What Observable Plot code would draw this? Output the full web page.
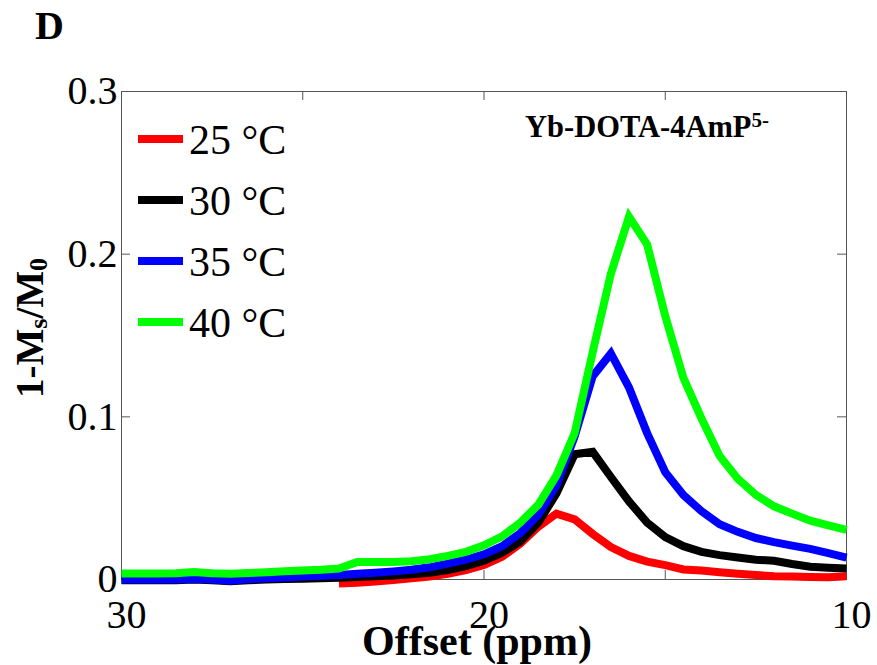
<!DOCTYPE html>
<html>
<head>
<meta charset="utf-8">
<script src="https://cdn.jsdelivr.net/npm/d3@7"></script>
<script src="https://cdn.jsdelivr.net/npm/@observablehq/plot@0.6"></script>
<style>
  body { margin: 0; background: #fff; }
  svg { display: block; }
</style>
</head>
<body>
<div id="chart"></div>
<script>
// ---- data ----
const offsets = [30, 29.5, 29, 28.5, 28, 27.5, 27, 26.5, 26, 25.5, 25, 24.5, 24, 23.5, 23, 22.5, 22, 21.5, 21, 20.5, 20,
                 19.5, 19, 18.5, 18, 17.5, 17, 16.5, 16, 15.5, 15, 14.5, 14, 13.5, 13, 12.5, 12, 11.5, 11, 10.5, 10];
const seriesNames = ["25 °C", "30 °C", "35 °C", "40 °C"];
const seriesColors = ["#ff0000", "#000000", "#0000ff", "#00ff00"];

// 25 °C starts at 24 ppm
const offsets25 = offsets.slice(12);
const values25 = [-0.0025, -0.0020, -0.0012, -0.0003, 0.0007, 0.0018, 0.0035, 0.0058, 0.0090,
                  0.0140, 0.0220, 0.0325, 0.0405, 0.0370, 0.0280, 0.0200, 0.0145, 0.0110, 0.0088, 0.0062,
                  0.0055, 0.0045, 0.0035, 0.0027, 0.0020, 0.0018, 0.0015, 0.0014, 0.0020];
const values30 = [-0.0005, -0.0005, -0.0005, -0.0005, 0.0000, -0.0005, -0.0010, -0.0005, 0.0000, 0.0003, 0.0005,
                  0.0008, 0.0010, 0.0015, 0.0020, 0.0025, 0.0032, 0.0042, 0.0058, 0.0082, 0.0115,
                  0.0165, 0.0235, 0.0350, 0.0530, 0.0770, 0.0785, 0.0630, 0.0480, 0.0350, 0.0260,
                  0.0205, 0.0170, 0.0150, 0.0135, 0.0122, 0.0115, 0.0095, 0.0078, 0.0072, 0.0068];
const values35 = [0.0000, 0.0000, 0.0000, 0.0000, 0.0003, 0.0000, -0.0008, 0.0003, 0.0008, 0.0013, 0.0018,
                  0.0023, 0.0028, 0.0035, 0.0042, 0.0050, 0.0060, 0.0075, 0.0098, 0.0122, 0.0155,
                  0.0205, 0.0285, 0.0400, 0.0580, 0.0880, 0.1250, 0.1390, 0.1180, 0.0900, 0.0660,
                  0.0520, 0.0420, 0.0340, 0.0293, 0.0255, 0.0230, 0.0208, 0.0188, 0.0162, 0.0135];
const values40 = [0.0037, 0.0037, 0.0037, 0.0038, 0.0046, 0.0038, 0.0036, 0.0040, 0.0045, 0.0050, 0.0055,
                  0.0060, 0.0068, 0.0108, 0.0108, 0.0108, 0.0112, 0.0125, 0.0145, 0.0170, 0.0210,
                  0.0265, 0.0350, 0.0460, 0.0640, 0.0900, 0.1400, 0.1880, 0.2230, 0.2060, 0.1620,
                  0.1240, 0.0990, 0.0760, 0.0620, 0.0520, 0.0450, 0.0405, 0.0362, 0.0333, 0.0305];

const xTicks = [30, 25, 20, 15, 10];
const xTickLabels = [30, 20, 10];
const yTicks = [0, 0.1, 0.2, 0.3];

// ---- table for the library ----
const rows = [];
offsets25.forEach((o, i) => rows.push({offset: o, value: values25[i], series: seriesNames[0]}));
offsets.forEach((o, i) => rows.push({offset: o, value: values30[i], series: seriesNames[1]}));
offsets.forEach((o, i) => rows.push({offset: o, value: values35[i], series: seriesNames[2]}));
offsets.forEach((o, i) => rows.push({offset: o, value: values40[i], series: seriesNames[3]}));

// ---- layout ----
const W = 877, H = 665;
const mL = 121, mR = 31, mT = 91, mB = 86;
const frameW = W - mL - mR, frameH = H - mT - mB;
const tickLen = 9;
const axisColor = "#555";
const serif = "'Liberation Serif','Times New Roman',Times,serif";

const chart = Plot.plot({
  width: W,
  height: H,
  marginLeft: mL, marginRight: mR, marginTop: mT, marginBottom: mB,
  style: {fontFamily: serif, background: "white", overflow: "visible", color: "black"},
  x: {domain: [30, 10], label: null},
  y: {domain: [0, 0.3], label: null},
  color: {domain: seriesNames, range: seriesColors},
  marks: [
    Plot.ruleX(xTicks, {x: d => d, insetTop: frameH - tickLen, stroke: axisColor}),
    Plot.ruleX(xTicks, {x: d => d, insetBottom: frameH - tickLen, stroke: axisColor}),
    Plot.ruleY(yTicks, {y: d => d, insetRight: frameW - tickLen, stroke: axisColor}),
    Plot.ruleY(yTicks, {y: d => d, insetLeft: frameW - tickLen, stroke: axisColor}),
    Plot.frame({stroke: axisColor, strokeWidth: 1}),
    Plot.axisX({ticks: xTickLabels, anchor: "bottom", tickSize: 0, tickPadding: 20, dx: 5,
                fontSize: 40, tickFormat: d => String(d), label: null}),
    Plot.axisY({ticks: yTicks, anchor: "left", tickSize: 0, tickPadding: 4,
                fontSize: 40, tickFormat: d => String(d), label: null}),
    Plot.line(rows, {x: "offset", y: "value", z: "series", stroke: "series",
                     strokeWidth: 8, strokeLinecap: "butt", strokeLinejoin: "miter", strokeMiterlimit: 3})
  ]
});

document.getElementById("chart").appendChild(chart);

// ---- rich text labels and in-plot legend ----
const svg = d3.select(chart);
const g = svg.append("g").attr("font-family", serif).attr("fill", "black").attr("text-anchor", "start");

g.append("text").attr("x", 35).attr("y", 39).attr("text-anchor", "start")
  .attr("font-size", 40).attr("font-weight", "bold").text("D");

g.append("text").attr("x", 477).attr("y", 655).attr("text-anchor", "middle")
  .attr("font-size", 42).attr("font-weight", "bold").text("Offset (ppm)");

const yl = g.append("text").attr("transform", "translate(43,328) rotate(-90)")
  .attr("text-anchor", "middle").attr("font-size", 39).attr("font-weight", "bold");
yl.append("tspan").text("1-M");
yl.append("tspan").attr("dy", 4).attr("font-size", 26).text("s");
yl.append("tspan").attr("dy", -4).text("/M");
yl.append("tspan").attr("dy", 4).attr("font-size", 26).text("0");

const ann = g.append("text").attr("x", 525).attr("y", 137).attr("text-anchor", "start")
  .attr("font-size", 30.5).attr("font-weight", "bold");
ann.append("tspan").text("Yb-DOTA-4AmP");
ann.append("tspan").attr("dy", -10).attr("font-size", 21).text("5-");

seriesNames.forEach((name, i) => {
  const y = 139 + i * 61;
  g.append("line").attr("x1", 138).attr("x2", 183).attr("y1", y).attr("y2", y)
    .attr("stroke", seriesColors[i]).attr("stroke-width", 8);
  g.append("text").attr("x", 189).attr("y", y).attr("dy", "0.35em").attr("text-anchor", "start")
    .attr("font-size", 42).text(name);
});
</script>
</body>
</html>
